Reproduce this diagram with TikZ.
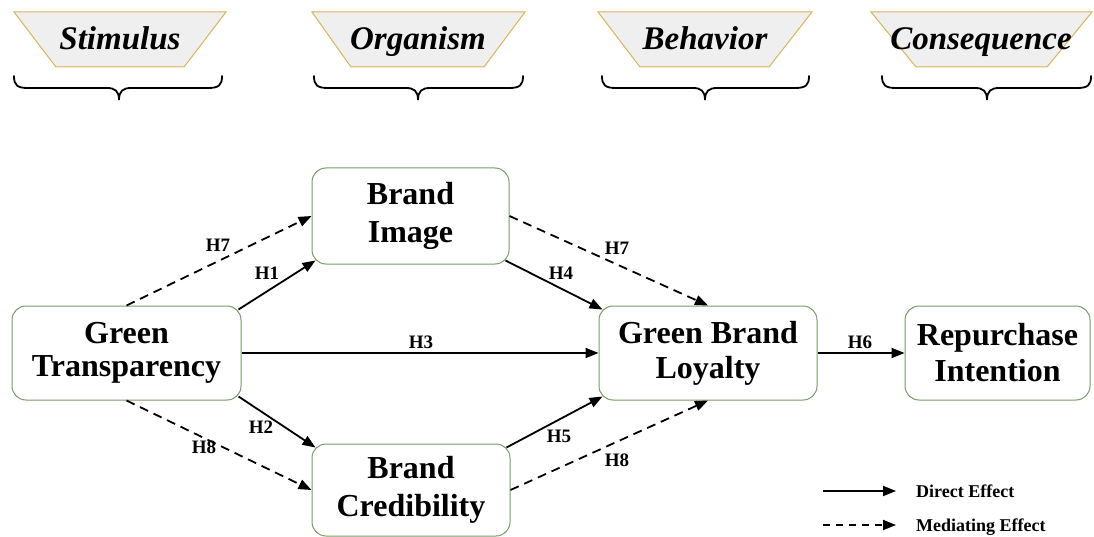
\documentclass[tikz,border=0pt]{standalone}
\usepackage{fontspec}
\setmainfont{Liberation Serif}
\usetikzlibrary{arrows.meta,calc}
\definecolor{boxgreen}{HTML}{7A9A68}
\definecolor{trapgold}{HTML}{D6B656}
\definecolor{trapgray}{HTML}{EFEFEF}
\newcommand{\sorbrace}[3]{\draw[brc] (#1,76) .. controls (#1,85) and (#1+3,88) .. (#1+14,88) -- (#2-12,88) .. controls (#2-4,88) and (#2,91) .. (#2,100) .. controls (#2,91) and (#2+4,88) .. (#2+12,88) -- (#3-14,88) .. controls (#3-3,88) and (#3,85) .. (#3,76);}
\begin{document}
\begin{tikzpicture}[x=1pt,y=-1pt,
  box/.style={draw=boxgreen, line width=1pt, rounded corners=14pt, fill=white, align=center, inner sep=0pt, font=\bfseries\fontsize{32}{36}\selectfont},
  trap/.style={draw=trapgold, fill=trapgray, line width=1pt},
  toplab/.style={font=\bfseries\itshape\fontsize{33}{40}\selectfont, inner sep=0pt, anchor=base},
  lab/.style={font=\bfseries\fontsize{19}{22}\selectfont, inner sep=0pt},
  leglab/.style={font=\bfseries\fontsize{18}{22}\selectfont, inner sep=0pt, anchor=base west},
  direct/.style={line width=1.8pt, -{Triangle[length=13pt,width=10pt]}},
  mediate/.style={direct, dash pattern=on 9pt off 6pt},
  brc/.style={line width=1.8pt, line cap=round}
]
\useasboundingbox (0,0) rectangle (1094,537);
% top categories
\draw[trap] (14,12) -- (226,12) -- (184,67) -- (56,67) -- cycle;
\node[toplab] (tS) at (120,50) {Stimulus};
\draw[trap] (312,12) -- (525,12) -- (484,67) -- (351,67) -- cycle;
\node[toplab] (tO) at (418,50) {Organism};
\draw[trap] (598,12) -- (812,12) -- (769,67) -- (640,67) -- cycle;
\node[toplab] (tB) at (705,50) {Behavior};
\draw[trap] (871,12) -- (1092,12) -- (1047,67) -- (916,67) -- cycle;
\node[toplab] (tC) at (981,50) {Consequence};
\sorbrace{14}{119}{222}
\sorbrace{314}{418}{523}
\sorbrace{602}{705}{809}
\sorbrace{882}{987}{1091}
% main nodes
\node[box, minimum width=229pt, minimum height=94pt, font=\bfseries\fontsize{32}{33}\selectfont] (GT) at (126.5,353) {Green\\Transparency};
\node[box, minimum width=197pt, minimum height=96pt, font=\bfseries\fontsize{32}{38}\selectfont] (BI) at (410.5,216) {Brand\\Image};
\node[box, minimum width=198pt, minimum height=92pt, font=\bfseries\fontsize{32}{38}\selectfont] (BC) at (411,490) {Brand\\Credibility};
\node[box, minimum width=218pt, minimum height=94pt, font=\bfseries\fontsize{32}{35}\selectfont] (GBL) at (708,353) {Green Brand\\Loyalty};
\node[box, minimum width=185pt, minimum height=94pt, font=\bfseries\fontsize{32}{36}\selectfont] (RI) at (997.5,353) {Repurchase\\Intention};
% connectors
\draw[mediate] (GT.north) -- (BI.west);
\draw[direct] ($(GT.north east)+(-3,4)$) -- ($(BI.south west)+(4,-4)$);
\draw[direct] (GT.east) -- (GBL.west);
\draw[direct] ($(GT.south east)+(-3,-4)$) -- ($(BC.north west)+(4,4)$);
\draw[mediate] (GT.south) -- (BC.west);
\draw[direct] ($(BI.south east)+(-4,-4)$) -- ($(GBL.north west)+(4,4)$);
\draw[mediate] (BI.east) -- (GBL.north);
\draw[direct] ($(BC.north east)+(-4,4)$) -- ($(GBL.south west)+(4,-4)$);
\draw[mediate] (BC.east) -- (GBL.south);
\draw[direct] (GBL.east) -- (RI.west);
% labels
\node[lab] (h7a) at (218,245) {H7};
\node[lab] (h1) at (267,273) {H1};
\node[lab] (h3) at (421,342) {H3};
\node[lab] (h2) at (261,427) {H2};
\node[lab] (h8a) at (204,447) {H8};
\node[lab] (h4) at (561,273) {H4};
\node[lab] (h7b) at (617,248) {H7};
\node[lab] (h5) at (559,436) {H5};
\node[lab] (h8b) at (617,460) {H8};
\node[lab] (h6) at (860,342) {H6};
% legend
\coordinate (l1a) at (823,491);
\coordinate (l1b) at (896,491);
\coordinate (l2a) at (823,525);
\coordinate (l2b) at (896,525);
\draw[direct] (l1a) -- (l1b);
\draw[direct, dash pattern=on 7pt off 6pt] (l2a) -- (l2b);
\node[leglab] (ld) at (916,497) {Direct Effect};
\node[leglab] (lm) at (916,531) {Mediating Effect};
\end{tikzpicture}
\end{document}
